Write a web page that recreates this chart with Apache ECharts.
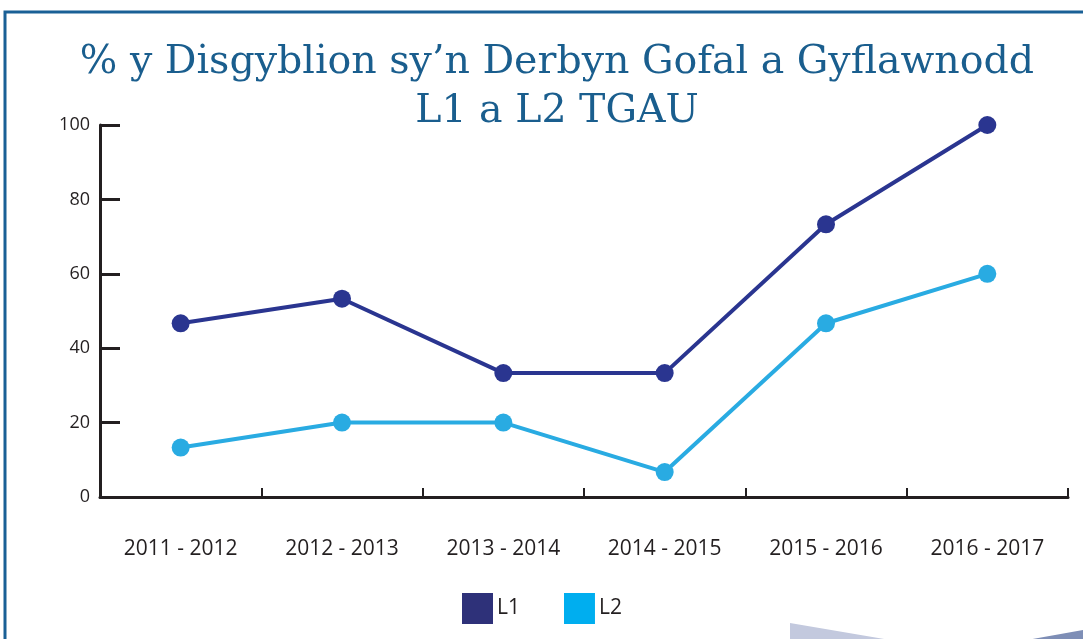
<!DOCTYPE html>
<html><head><meta charset="utf-8">
<script src="https://cdn.jsdelivr.net/npm/echarts@6/dist/echarts.min.js"></script>
<style>html,body{margin:0;padding:0;background:#fff}#c{width:1083px;height:639px}</style>
</head><body><div id="c"></div>
<script>
const titleText = "% y Disgyblion sy\u2019n Derbyn Gofal a Gyflawnodd\nL1 a L2 TGAU";
const categories = ["2011 - 2012","2012 - 2013","2013 - 2014","2014 - 2015","2015 - 2016","2016 - 2017"];
const seriesNames = ["L1","L2"];
const valuesL1 = [46.7, 53.3, 33.3, 33.3, 73.3, 100];
const valuesL2 = [13.3, 20, 20, 6.7, 46.7, 60];
const yTicks = [0, 20, 40, 60, 80, 100];

const chart = echarts.init(document.getElementById('c'), null, {renderer:'canvas'});
const fam = '"Open Sans", "Noto Sans", sans-serif';
chart.setOption({
  animation:false,
  backgroundColor:'#fff',
  title:{
    text:titleText, left:552, textAlign:'center', top:33,
    textStyle:{fontFamily:'"DejaVu Serif", serif', fontWeight:'normal', fontSize:39.5, lineHeight:49, color:'#1a5e8e'}
  },
  graphic:[
    {type:'rect', shape:{x:5, y:12, width:1200, height:800}, style:{fill:'none', stroke:'#1a6096', lineWidth:3}, z:-1},
    {type:'polygon', shape:{points:[[790,623],[890,640],[790,640]]}, style:{fill:'#c3c9de'}, z:-1},
    {type:'polygon', shape:{points:[[1027,640],[1083,630],[1083,640]]}, style:{fill:'#7e8eb6'}, z:-1}
  ],
  grid:{left:100, right:15, top:125, bottom:142},
  legend:{
    data:[{name:seriesNames[0], itemStyle:{color:'#2e3179'}}, {name:seriesNames[1], itemStyle:{color:'#00aeef'}}],
    left:457, top:588, itemWidth:31, itemHeight:31, itemGap:44,
    icon:'rect',
    textStyle:{fontFamily:fam, fontSize:21, color:'#231f20', padding:[0,0,0,-1]}
  },
  xAxis:{
    type:'category', data:categories, boundaryGap:true,
    axisLine:{lineStyle:{color:'#231f20', width:3}},
    axisTick:{show:true, inside:true, length:9, lineStyle:{color:'#231f20', width:2}},
    axisLabel:{margin:42, fontFamily:fam, fontSize:21, color:'#231f20'},
    splitLine:{show:false}
  },
  yAxis:{
    type:'value', min:0, max:100, interval:20,
    axisLine:{show:true, lineStyle:{color:'#231f20', width:3}},
    axisTick:{show:true, inside:true, length:20, lineStyle:{color:'#231f20', width:3}},
    axisLabel:{margin:10, fontFamily:fam, fontSize:18, color:'#231f20'},
    splitLine:{show:false}
  },
  series:[
    {name:seriesNames[0], type:'line', data:valuesL1, symbol:'circle', symbolSize:18,
     itemStyle:{color:'#2a3590'}, lineStyle:{color:'#2a3590', width:4}},
    {name:seriesNames[1], type:'line', data:valuesL2, symbol:'circle', symbolSize:18,
     itemStyle:{color:'#29abe2'}, lineStyle:{color:'#29abe2', width:4}}
  ]
});
</script></body></html>
